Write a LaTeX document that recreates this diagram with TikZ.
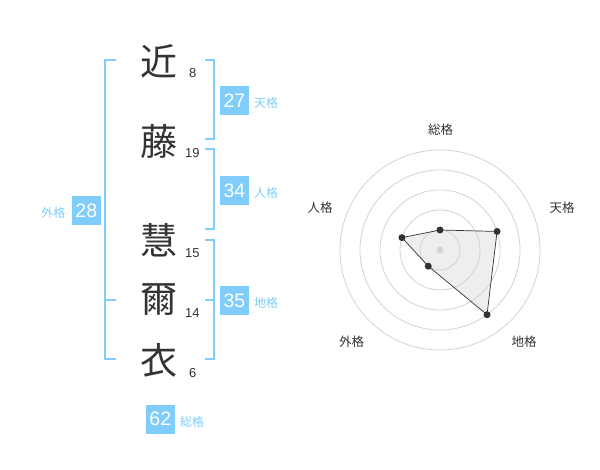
\documentclass[tikz,border=0pt]{standalone}
\usepackage{fontspec}
\setmainfont{Liberation Sans}
\newfontfamily\cjk{Noto Sans CJK JP}
\usetikzlibrary{calc}
\definecolor{kblue}{RGB}{128,204,250}
\definecolor{kdark}{RGB}{51,51,51}
\definecolor{kring}{RGB}{210,210,210}
\definecolor{kfill}{RGB}{238,238,238}
\tikzset{
  bigchar/.style={inner sep=0pt, font=\cjk\fontsize{37}{37}\selectfont, text=kdark},
  strokenum/.style={inner sep=0pt, font=\fontsize{13}{13}\selectfont, text=kdark},
  numbox/.style={fill=kblue, text=white, minimum width=29pt, minimum height=29pt, inner sep=0pt, font=\fontsize{19.5}{19.5}\selectfont},
  kaku/.style={inner sep=0pt, text=kblue, font=\cjk\fontsize{12}{12}\selectfont},
  bracket/.style={draw=kblue, line width=2pt},
  ring/.style={draw=kring, line width=0.8pt},
  axislabel/.style={inner sep=0pt, text=kdark, font=\cjk\fontsize{12.5}{12.5}\selectfont},
  datapt/.style={circle, fill=kdark, inner sep=0pt, minimum size=7pt},
}
\begin{document}
\begin{tikzpicture}[x=1pt,y=-1pt]
\useasboundingbox (0,0) rectangle (600,470);
% characters
\node[bigchar] (c1) at (159,61) {近};
\node[bigchar] (c2) at (159,141) {藤};
\node[bigchar] (c3) at (159,240) {慧};
\node[bigchar] (c4) at (159,300) {爾};
\node[bigchar] (c5) at (159,360) {衣};
% stroke counts
\node[strokenum] (n1) at (192.7,72.7) {8};
\node[strokenum] (n2) at (192.3,152.7) {19};
\node[strokenum] (n3) at (192.3,252.7) {15};
\node[strokenum] (n4) at (192.3,313) {14};
\node[strokenum] (n5) at (192.7,373) {6};
% left bracket (外格)
\draw[bracket] (116,60) -- (105,60) -- (105,359.3) -- (116,359.3);
\draw[bracket] (105,300) -- (116,300);
% right brackets
\draw[bracket] (205,60) -- (214.3,60) -- (214.3,139.3) -- (205,139.3);
\draw[bracket] (205,149.3) -- (214.3,149.3) -- (214.3,229) -- (205,229);
\draw[bracket] (205,240) -- (214.3,240) -- (214.3,359.3) -- (205,359.3);
\draw[bracket] (205,300) -- (214.3,300);
% boxes
\node[numbox] (b27) at (234.5,100.5) {27};
\node[kaku, anchor=west] (k27) at (254,102.5) {天格};
\node[numbox] (b34) at (234.5,190.5) {34};
\node[kaku, anchor=west] (k34) at (254,193) {人格};
\node[numbox] (b35) at (234.5,300.5) {35};
\node[kaku, anchor=west] (k35) at (254,303) {地格};
\node[numbox] (b28) at (86.3,210.5) {28};
\node[kaku, anchor=east] (k28) at (65.5,213) {外格};
\node[numbox] (b62) at (160.3,419) {62};
\node[kaku, anchor=west] (k62) at (180,422) {総格};
% radar
\coordinate (rc) at (440,250);
\coordinate (q1) at ($(rc)+(-90:20)$);
\coordinate (q2) at ($(rc)+(-18:60)$);
\coordinate (q3) at ($(rc)+(54:80)$);
\coordinate (q4) at ($(rc)+(126:20)$);
\coordinate (q5) at ($(rc)+(-162:40)$);
\fill[kfill] (q1) -- (q2) -- (q3) -- (q4) -- (q5) -- cycle;
\foreach \r in {20,40,60,80,100} \draw[ring] (rc) circle (\r);
\draw[kdark, line width=0.7pt] (q1) -- (q2) -- (q3) -- (q4) -- (q5) -- cycle;
\node[circle, fill=kring, inner sep=0pt, minimum size=7pt] (rcd) at (rc) {};
\node[datapt] (p1) at (q1) {};
\node[datapt] (p2) at (q2) {};
\node[datapt] (p3) at (q3) {};
\node[datapt] (p4) at (q4) {};
\node[datapt] (p5) at (q5) {};
\node[axislabel] (l1) at (440.7,130) {総格};
\node[axislabel] (l2) at (562,208) {天格};
\node[axislabel] (l3) at (524,341.7) {地格};
\node[axislabel] (l4) at (351.7,341.7) {外格};
\node[axislabel] (l5) at (320,208) {人格};
\end{tikzpicture}
\end{document}
